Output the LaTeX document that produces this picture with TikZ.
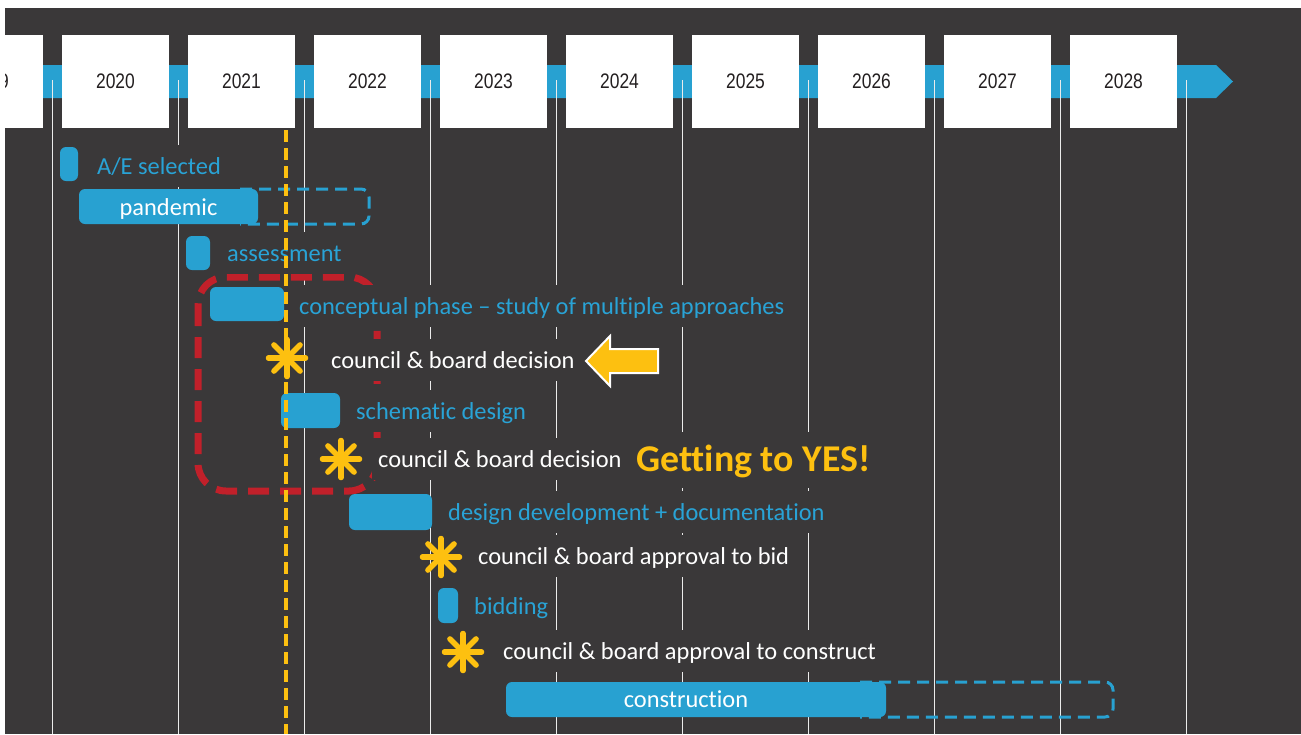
\documentclass[tikz,border=0pt]{standalone}
\usepackage{fontspec}
\usetikzlibrary{calc}
\setmainfont{Carlito}[Ligatures={NoCommon}]
\newfontfamily\yearfont{Liberation Sans}
\definecolor{bgc}{HTML}{3A3839}
\definecolor{tlblue}{HTML}{28A1D1}
\definecolor{txtblue}{HTML}{29A3D6}
\definecolor{ylw}{HTML}{FDC010}
\definecolor{redc}{HTML}{C1202A}
\definecolor{yeartxt}{HTML}{231F20}
\begin{document}
\begin{tikzpicture}[x=1pt,y=-1pt,
  vline/.style={draw=white!92!black,line width=1.3pt},
  yearbox/.style={fill=white,minimum width=107pt,minimum height=93pt,inner sep=0pt,outer sep=0pt,
     font=\yearfont\fontsize{21}{24}\selectfont,text=yeartxt},
  lbl/.style={fill=bgc,anchor=west,inner xsep=6pt,inner ysep=0pt,minimum height=42pt,
     text height=19pt,text depth=3pt,font=\fontsize{24.4}{28}\selectfont},
  bluelbl/.style={lbl,text=txtblue},
  whitelbl/.style={lbl,text=white},
  bar/.style={fill=tlblue,rounded corners=6pt,inner sep=0pt,outer sep=0pt,anchor=north west},
  barlbl/.style={inner sep=0pt,text=white,text height=19pt,text depth=3pt,font=\fontsize{24.4}{28}\selectfont},
  dashout/.style={draw=tlblue,line width=3pt,dash pattern=on 12pt off 7pt,rounded corners=8pt},
  starc/.style={draw=ylw,line width=5.5pt,line cap=round},
]
\useasboundingbox (0,0) rectangle (1301,734);
\fill[white] (0,0) rectangle (1301,734);
\fill[bgc] (5,8) rectangle (1301,734);
\begin{scope}
\clip (5,8) rectangle (1301,734);
\fill[tlblue] (5,65) -- (1216,65) -- (1233,81.5) -- (1216,98) -- (5,98) -- cycle;
\foreach \i in {0,...,9} \draw[vline] (52.5+126*\i,80) -- (52.5+126*\i,734);
\foreach \yr [count=\i from 0] in {2019,2020,2021,2022,2023,2024,2025,2026,2027,2028}
  \node[yearbox] (y\yr) at (-10.5+126*\i,81.5) {\scalebox{0.83}[1]{\yr}};
\end{scope}
% red dashed box
\draw[draw=redc,line width=7pt,dash pattern=on 21pt off 11pt,rounded corners=28pt] (198,277) rectangle (377,491);
% text labels
\node[bluelbl] (tae) at (91,166) {A/E selected};
\node[bluelbl] (tas) at (221,253) {assessment};
\node[bluelbl] (tcp) at (293,306) {conceptual phase – study of multiple approaches};
\node[whitelbl] (tc1) at (325,360) {council \& board decision};
\node[bluelbl] (tsd) at (350,411) {schematic design};
\node[whitelbl] (tc2) at (372,459) {council \& board decision};
\node[lbl,text=ylw,font=\fontsize{37.8}{40}\selectfont\bfseries,text height=28pt,text depth=6pt,minimum height=56pt] (yes) at (630,460) {Getting to YES!};
\node[bluelbl] (tdd) at (442,512) {design development + documentation};
\node[whitelbl] (tc3) at (472,556) {council \& board approval to bid};
\node[bluelbl] (tbd) at (468,606) {bidding};
\node[whitelbl] (tc4) at (497,651) {council \& board approval to construct};
% dashed outlines (extensions)
\draw[dashout] (240,189) -- (369,189) -- (369,224) -- (240,224);
\draw[dashout] (860,682) -- (1113,682) -- (1113,717) -- (860,717);
% bars
\node[bar,minimum width=18pt,minimum height=34pt] (bae) at (60,147) {};
\node[bar,minimum width=179pt,minimum height=35pt] (bpd) at (79,189) {};
\node[bar,minimum width=24pt,minimum height=34pt] (bas) at (186,236) {};
\node[bar,minimum width=74pt,minimum height=34pt] (bcp) at (210,287) {};
\node[bar,minimum width=59pt,minimum height=35pt] (bsd) at (281,393) {};
\node[bar,minimum width=83pt,minimum height=36pt] (bdd) at (349,494) {};
\node[bar,minimum width=20pt,minimum height=35pt] (bbd) at (438,588) {};
\node[bar,minimum width=380pt,minimum height=35pt] (bcn) at (506,682) {};
\node[barlbl] (lpd) at (168.5,207) {pandemic};
\node[barlbl] (lcn) at (686,699) {construction};
% yellow dashed line (today)
\coordinate (ytop) at (286,130);
\coordinate (ybot) at (286,734);
\draw[draw=ylw,line width=3.5pt,dash pattern=on 12pt off 6pt] (ytop) -- (ybot);
% stars
\foreach \n/\cx/\cy in {s1/287/358,s2/341/459,s3/441/557,s4/463/652}{
  \coordinate (\n) at (\cx,\cy);
  \foreach \a in {0,45,90,135}
    \draw[starc] ($(\n)+(\a:18.5pt)$) -- ($(\n)+(\a+180:18.5pt)$);
}
% yellow arrow
\draw[draw=white,line width=2pt,fill=ylw,line join=miter] (586,361) -- (610,336) -- (610,349) -- (658,349) -- (658,373) -- (610,373) -- (610,386) -- cycle;
\end{tikzpicture}
\end{document}
